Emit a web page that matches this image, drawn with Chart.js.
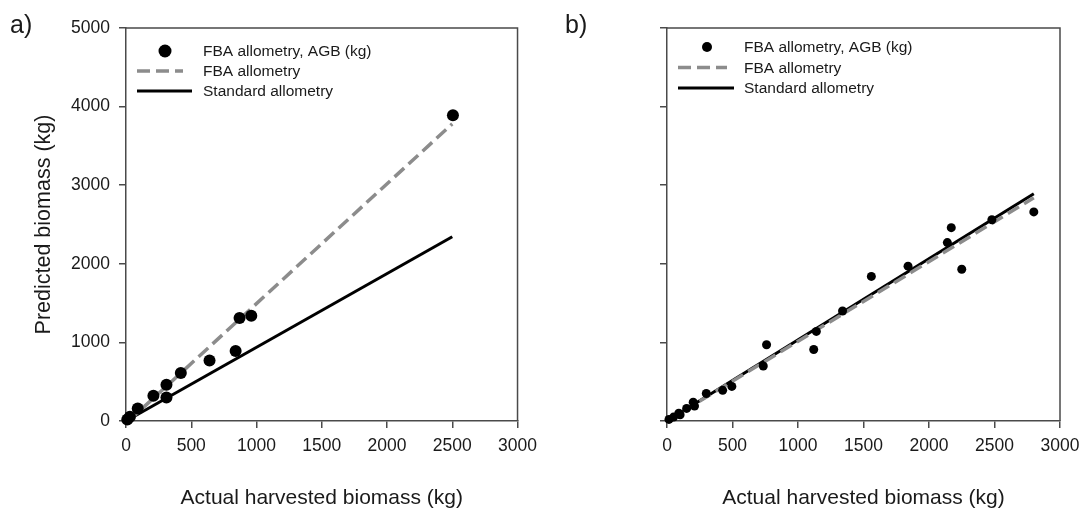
<!DOCTYPE html>
<html><head><meta charset="utf-8">
<script src="https://cdn.jsdelivr.net/npm/chart.js@4/dist/chart.umd.min.js"></script>
<style>
html,body{margin:0;padding:0;background:#fff;}
#wrap{position:relative;width:1089px;height:511px;overflow:hidden;}
canvas{position:absolute;top:0;}
</style></head><body>
<div id="wrap">
<canvas id="ca" width="545" height="511" style="left:0"></canvas>
<canvas id="cb" width="544" height="511" style="left:545px"></canvas>
</div>
<script>
// ---- data ----
const xTicks = [0, 500, 1000, 1500, 2000, 2500, 3000];
const yTicks = [0, 1000, 2000, 3000, 4000, 5000];
const legendLabels = ['FBA allometry, AGB (kg)', 'FBA allometry', 'Standard allometry'];
const axisTitleX = 'Actual harvested biomass (kg)';
const axisTitleY = 'Predicted biomass (kg)';
const panelLabels = ['a)', 'b)'];

// panel a
const aActual    = [2505, 960, 870, 840, 640, 420, 310, 310, 210, 90, 30, 10];
const aPredicted = [3890, 1340, 1310, 890, 770, 610, 460, 300, 320, 160, 55, 20];
const aFbaLineX = [20, 2500];
const aFbaLineY = [0, 3780];
const aStdLineX = [0, 2500];
const aStdLineY = [0, 2345];

// panel b
const bActual    = [2800, 2480, 2170, 2140, 2250, 1840, 1560, 1340, 1140, 1120, 760, 735, 495, 425, 300, 200, 210, 150, 90, 100, 50, 15];
const bPredicted = [2660, 2560, 2460, 2270, 1930, 1970, 1840, 1400, 1140, 910, 970, 700, 440, 390, 350, 240, 190, 160, 100, 80, 50, 20];
const bFbaLineX = [0, 2800];
const bFbaLineY = [0, 2840];
const bStdLineX = [0, 2800];
const bStdLineY = [0, 2890];

// ---- helpers ----
const FONT = "'Liberation Sans', Arial, sans-serif";
const AXIS_COLOR = '#4a4a4a';
const TEXT_COLOR = '#1a1a1a';
const pts = (xs, ys) => xs.map((x, i) => ({x: x, y: ys[i]}));

const framePlugin = {
  id: 'frame',
  beforeDatasetsDraw(chart) {
    const {ctx, chartArea: ca} = chart;
    ctx.save();
    ctx.strokeStyle = AXIS_COLOR;
    ctx.lineWidth = 1.5;
    ctx.beginPath();
    ctx.moveTo(ca.left, ca.top);
    ctx.lineTo(ca.right, ca.top);
    ctx.lineTo(ca.right, ca.bottom);
    ctx.stroke();
    ctx.restore();
  }
};

const legendPlugin = {
  id: 'boxLegend',
  afterDraw(chart, args, o) {
    const {ctx, chartArea: ca} = chart;
    ctx.save();
    chart.data.datasets.forEach((ds, i) => {
      const y = ca.top + o.y0 + i * o.dy;
      if (ds.showLine) {
        ctx.strokeStyle = ds.borderColor;
        ctx.lineWidth = ds.borderWidth;
        ctx.setLineDash(ds.borderDash || []);
        ctx.beginPath();
        ctx.moveTo(ca.left + o.lx0, y);
        ctx.lineTo(ca.left + (ds.borderDash ? o.lx1d : o.lx1), y);
        ctx.stroke();
        ctx.setLineDash([]);
      } else {
        ctx.fillStyle = ds.backgroundColor;
        ctx.beginPath();
        ctx.arc(ca.left + o.mx, y, o.mr, 0, Math.PI * 2);
        ctx.fill();
      }
      ctx.fillStyle = TEXT_COLOR;
      ctx.font = o.fontSize + 'px ' + FONT;
      ctx.textBaseline = 'middle';
      ctx.textAlign = 'left';
      ctx.fillText(ds.label, ca.left + o.tx, y + 1);
    });
    // panel label
    ctx.font = '25px ' + FONT;
    ctx.textBaseline = 'alphabetic';
    ctx.fillStyle = TEXT_COLOR;
    ctx.fillText(o.panel, o.px, o.py);
    ctx.restore();
  }
};

function makeChart(id, actual, predicted, fx, fy, sx, sy, opts) {
  const datasets = [
    {label: legendLabels[0], data: pts(actual, predicted), backgroundColor: '#000', borderWidth: 0,
     pointRadius: opts.r, pointHoverRadius: opts.r, showLine: false, clip: false},
    {label: legendLabels[1], data: pts(fx, fy), showLine: true, borderColor: '#8c8c8c', borderWidth: 3.5,
     borderDash: [13, 6], pointRadius: 0, clip: false},
    {label: legendLabels[2], data: pts(sx, sy), showLine: true, borderColor: '#000', borderWidth: 3,
     pointRadius: 0, clip: false}
  ];
  return new Chart(document.getElementById(id), {
    type: 'scatter',
    data: {datasets},
    options: {
      responsive: false, animation: false, devicePixelRatio: 1,
      events: [],
      layout: {padding: {top: 28, right: opts.padRight, left: 0, bottom: 0}},
      plugins: {
        legend: {display: false}, tooltip: {enabled: false},
        boxLegend: opts.legend
      },
      scales: {
        x: {
          type: 'linear', min: 0, max: 3000,
          afterBuildTicks: s => { s.ticks = xTicks.map(v => ({value: v})); },
          afterFit: s => { s.height = 90; },
          ticks: {color: TEXT_COLOR, font: {family: FONT, size: 17.5}, padding: 8, maxRotation: 0,
                  callback: v => String(v)},
          grid: {drawOnChartArea: false, drawTicks: true, tickLength: 7, color: AXIS_COLOR, lineWidth: 1.5},
          border: {display: true, color: AXIS_COLOR, width: 1.5},
          title: {display: true, text: axisTitleX, color: TEXT_COLOR, font: {family: FONT, size: 21},
                  padding: {top: 0, bottom: 0}}
        },
        y: {
          type: 'linear', min: 0, max: 5000,
          afterBuildTicks: s => { s.ticks = yTicks.map(v => ({value: v})); },
          afterFit: s => { s.width = opts.yWidth; },
          ticks: {display: opts.yLabels, color: TEXT_COLOR, font: {family: FONT, size: 17.5}, padding: 9,
                  callback: v => String(v)},
          grid: {drawOnChartArea: false, drawTicks: true, tickLength: 7, color: AXIS_COLOR, lineWidth: 1.5},
          border: {display: true, color: AXIS_COLOR, width: 1.5},
          title: {display: opts.yLabels, text: axisTitleY, color: TEXT_COLOR, font: {family: FONT, size: 21.5},
                  padding: {top: 31, bottom: 0}}
        }
      }
    },
    plugins: [framePlugin, legendPlugin]
  });
}

makeChart('ca', aActual, aPredicted, aFbaLineX, aFbaLineY, aStdLineX, aStdLineY, {
  r: 6, padRight: 26, yWidth: 126, yLabels: true,
  legend: {y0: 23, dy: 20, mx: 39, mr: 6.5, lx0: 11, lx1: 66, lx1d: 57, tx: 77, fontSize: 15.5,
           panel: panelLabels[0], px: 10, py: 33}
});
makeChart('cb', bActual, bPredicted, bFbaLineX, bFbaLineY, bStdLineX, bStdLineY, {
  r: 4.5, padRight: 29, yWidth: 122, yLabels: false,
  legend: {y0: 19, dy: 20.5, mx: 40, mr: 5, lx0: 11, lx1: 67, lx1d: 60, tx: 77, fontSize: 15.5,
           panel: panelLabels[1], px: 20, py: 33}
});
</script>
</body></html>
